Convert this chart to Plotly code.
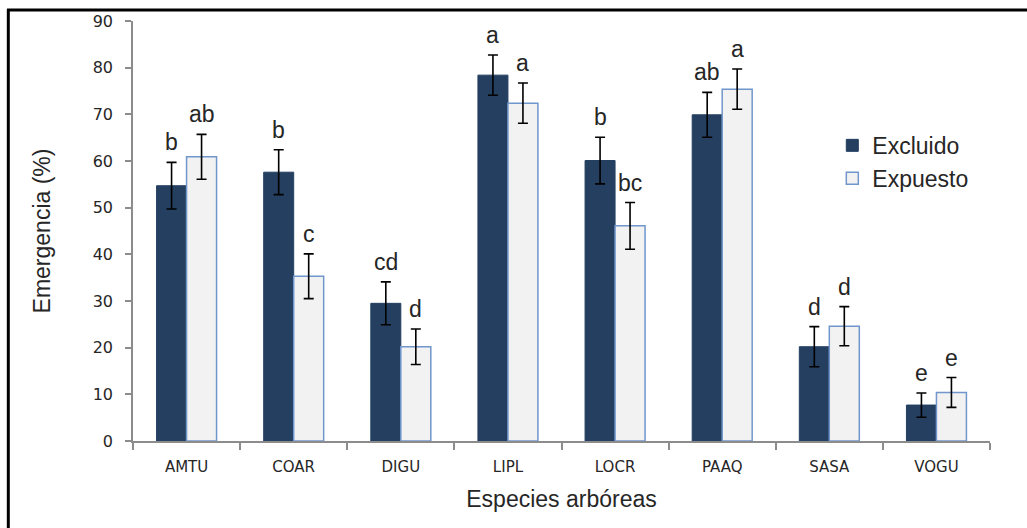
import plotly.graph_objects as go

species = ["AMTU", "COAR", "DIGU", "LIPL", "LOCR", "PAAQ", "SASA", "VOGU"]
excluido = [54.7, 57.6, 29.5, 78.4, 60.1, 69.9, 20.2, 7.7]
excluido_err = [5.0, 4.8, 4.6, 4.3, 5.0, 4.8, 4.3, 2.6]
expuesto = [60.9, 35.3, 20.2, 72.4, 46.1, 75.4, 24.6, 10.4]
expuesto_err = [4.8, 4.8, 3.8, 4.3, 5.0, 4.3, 4.2, 3.2]
letters_excl = ["b", "b", "cd", "a", "b", "ab", "d", "e"]
letters_expu = ["ab", "c", "d", "a", "bc", "a", "d", "e"]

NAVY = "#243F60"
LIGHT = "#F2F2F2"
EDGE = "#7196CC"
AXIS = "#8C8C8C"
TXT = "#262626"
BIG = dict(family="Liberation Sans, Arial", size=23, color=TXT)

fig = go.Figure()
fig.add_trace(go.Bar(
    x=species, y=excluido, name="Excluido",
    marker=dict(color=NAVY, line=dict(color=NAVY, width=1)),
    error_y=dict(type="data", array=excluido_err, color="black", thickness=1.6, width=5),
))
fig.add_trace(go.Bar(
    x=species, y=expuesto, name="Expuesto",
    marker=dict(color=LIGHT, line=dict(color=EDGE, width=1.5)),
    error_y=dict(type="data", array=expuesto_err, color="black", thickness=1.6, width=5),
))

annots = []
for i, sp in enumerate(species):
    annots.append(dict(x=sp, y=excluido[i] + excluido_err[i], text=letters_excl[i],
                       xref="x", yref="y", showarrow=False, yanchor="bottom",
                       xshift=-15, yshift=5, font=BIG))
    annots.append(dict(x=sp, y=expuesto[i] + expuesto_err[i], text=letters_expu[i],
                       xref="x", yref="y", showarrow=False, yanchor="bottom",
                       xshift=15, yshift=5, font=BIG))

fig.update_layout(
    width=1027, height=528,
    margin=dict(l=133, r=37, t=18, b=87),
    paper_bgcolor="white", plot_bgcolor="white",
    barmode="group", bargap=0.44, bargroupgap=0,
    showlegend=True,
    legend=dict(x=0.816, y=0.755, xanchor="left", yanchor="top",
                font=BIG, bgcolor="rgba(0,0,0,0)", traceorder="normal"),
    annotations=annots,
    shapes=[
        dict(type="line", xref="paper", yref="paper", x0=-0.1455, x1=-0.1455,
             y0=-0.21, y1=1.028, line=dict(color="black", width=3)),
        dict(type="line", xref="paper", yref="paper", x0=-0.147, x1=1.05,
             y0=1.026, y1=1.026, line=dict(color="black", width=3)),
    ],
)

fig.update_yaxes(
    range=[0, 90], dtick=10, showgrid=False, zeroline=False,
    showline=True, linecolor=AXIS, linewidth=1.5,
    ticks="outside", ticklen=6, tickcolor=AXIS, tickwidth=1.5,
    ticklabelstandoff=9,
    tickfont=dict(family="DejaVu Sans", size=16, color=TXT),
    title=dict(text="Emergencia (%)", standoff=36, font=BIG),
)
fig.update_xaxes(
    showgrid=False, showline=True, linecolor=AXIS, linewidth=1.5,
    ticks="outside", ticklen=7, tickcolor=AXIS, tickwidth=1.5, tickson="boundaries",
    ticklabelstandoff=11,
    tickfont=dict(family="DejaVu Sans", size=15, color=TXT),
    title=dict(text="Especies arbóreas", standoff=16, font=BIG),
)

fig.write_html("out.html")
